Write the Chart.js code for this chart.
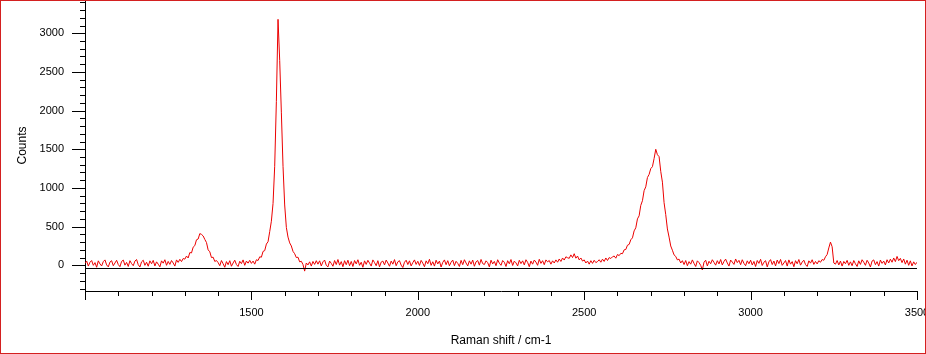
<!DOCTYPE html>
<html>
<head>
<meta charset="utf-8">
<title>Raman spectrum</title>
<script src="https://cdn.jsdelivr.net/npm/chart.js@4.4.0/dist/chart.umd.min.js"></script>
<style>
  html, body { margin: 0; padding: 0; background: #fff; }
  #wrap { position: relative; width: 926px; height: 354px; }
</style>
</head>
<body>
<div id="wrap"><canvas id="ramanChart"></canvas></div>
<script>
// Raman shift grid (cm-1) and counts, one value every 5 cm-1
const shiftStart = 1000;
const shiftStep = 5;
const counts = [
  25, 55, -10, 40, 62, 0, 35, -25, 58, 18, -8, 48, 70, 5, -20, 42, 60, -5, 30, 65,        // 1000
  10, -18, 50, 68, 2, 38, -15, 60, 22, -5, 55, 75, 8, -22, 45, 66, 0, 40, -12, 58,        // 1100
  20, 64, -8, 45, 15, -20, 58, 28, 72, 0, 50, 12, 62, 30, -10, 70, 38, 78, 48, 88,        // 1200
  80, 120, 95, 165, 160, 235, 255, 330, 340, 410, 400, 380, 335, 295, 200, 175, 100, 105, 50, 62, // 1300 D band
  35, -5, 62, 20, -25, 48, 8, 60, -12, 30, 66, 10, -15, 52, 22, 70, 0, 55, 28, 64,        // 1400
  25, 55, 15, 72, 62, 110, 105, 180, 190, 275, 305, 435, 570, 800, 1280, 2120, 3180, 2650, 1980, 1280, // 1500 G band
  780, 490, 365, 290, 250, 180, 150, 100, 105, 45, 52, 10, -75, 30, 5, 45, -10, 50, 12, 60, // 1600
  15, 58, -8, 45, 68, 0, -20, 55, 25, -12, 62, 10, 75, 2, 48, -18, 60, 8, 66, -5,         // 1700
  50, -15, 62, 18, 72, 0, 40, -25, 58, 12, 65, 28, -10, 70, 35, -5, 60, -20, 42, 55,      // 1800
  5, 68, 30, -12, 55, 15, 74, -5, 45, 60, 2, -28, 40, 66, 10, 58, -8, 35, 70, 12,         // 1900
  52, -2, 64, 28, -18, 58, 20, 78, 0, 46, -10, 66, 18, 55, -22, 38, 70, 8, 60, -6,        // 2000
  40, 68, -5, 52, 25, -15, 64, 8, 72, 30, -8, 58, 15, 68, -12, 45, 62, 2, 76, 22,         // 2100
  10, 58, 35, -20, 66, 18, 50, -5, 72, 28, 0, 62, 40, -15, 60, 20, 75, -2, 54, 32,        // 2200
  -8, 65, 22, 58, 5, 72, 38, -18, 55, 15, 68, 42, 0, 78, 25, 60, 8, 70, 45, 62,           // 2300
  15, 58, 30, 70, 40, 82, 50, 95, 68, 110, 98, 90, 135, 100, 150, 92, 120, 70, 95, 55,    // 2400
  70, 30, 55, 15, 60, 25, 65, 35, 48, 72, 40, 80, 50, 95, 62, 100, 88, 110, 120, 92,      // 2500
  140, 125, 155, 150, 200, 205, 260, 270, 330, 355, 445, 485, 600, 640, 775, 835, 965, 1015, 1135, 1175, // 2600 2D band
  1250, 1275, 1380, 1500, 1430, 1405, 1215, 1075, 810, 655, 470, 365, 250, 195, 135, 115, 70, 80, 30, 60, // 2700
  10, 62, -5, 48, 15, 70, 25, -15, 58, 35, 0, -60, 40, 66, -8, 52, 20, 72, 38, 2,         // 2800
  60, 18, 75, 5, 50, 80, 30, -10, 68, 42, 12, 82, 35, 64, 8, 72, 25, -5, 58, 20,          // 2900
  66, 5, 50, -15, 62, 25, 78, -2, 40, 60, -20, 45, 74, 10, 55, -8, 68, 22, 76, 0,         // 3000
  30, 62, -10, 70, 15, 48, -18, 60, 20, 75, 2, 42, 66, 10, -15, 58, 28, 72, 12, 50,       // 3100
  18, 60, 40, 75, 65, 110, 140, 225, 300, 240, 30, 15, 62, 5, 55, -10, 50, 20, 64, 0,     // 3200 2D'
  45, -5, 62, 20, -15, 58, 12, 72, 40, 0, 65, 30, -22, 55, 70, 8, 48, -10, 68, 25,        // 3300
  55, 5, 72, 30, 80, 40, 95, 48, 115, 60, 90, 35, 82, 15, 66, 0, 58, -8, 45, 10,          // 3400
  40                                                                                       // 3500
];
const baselineLevel = -35; // black reference line across the plot
const xTickLabels = [1500, 2000, 2500, 3000, 3500];
const yTickLabels = [0, 500, 1000, 1500, 2000, 2500, 3000];

const shifts = counts.map((c, i) => shiftStart + i * shiftStep);
const spectrum = counts.map((c, i) => ({ x: shifts[i], y: c }));

// reference line over the trace
const baselinePlugin = {
    id: 'baselinePlugin',
    afterDatasetsDraw(chart) {
        const ctx = chart.ctx;
        const area = chart.chartArea;
        const py = Math.round(chart.scales.y.getPixelForValue(baselineLevel)) + 0.5;
        ctx.save();
        ctx.strokeStyle = '#000';
        ctx.lineWidth = 1;
        ctx.beginPath();
        ctx.moveTo(area.left, py);
        ctx.lineTo(area.right, py);
        ctx.stroke();
        ctx.restore();
    }
};

// short/long tick marks outside the axes + red frame round the picture
const tickMarks = {
    id: 'tickMarks',
    afterDraw(chart) {
        const ctx = chart.ctx;
        const area = chart.chartArea;
        const xs = chart.scales.x, ys = chart.scales.y;
        ctx.save();
        ctx.strokeStyle = '#000';
        ctx.lineWidth = 1;
        ctx.beginPath();
        xs.ticks.forEach(t => {
            const px = Math.round(xs.getPixelForValue(t.value)) + 0.5;
            const len = t.value % 500 === 0 ? 9 : 5;
            ctx.moveTo(px, area.bottom);
            ctx.lineTo(px, area.bottom + len);
        });
        ys.ticks.forEach(t => {
            const py = Math.round(ys.getPixelForValue(t.value)) + 0.5;
            const len = t.value % 500 === 0 ? 13 : 5;
            ctx.moveTo(area.left, py);
            ctx.lineTo(area.left - len, py);
        });
        ctx.stroke();
        ctx.strokeStyle = '#d42020';
        ctx.strokeRect(0.5, 0.5, chart.width - 1, chart.height - 1);
        ctx.restore();
    }
};

const ctx = document.getElementById('ramanChart').getContext('2d');
const ramanChart = new Chart(ctx, {
    type: 'line',
    data: {
        datasets: [{
            label: 'Spectrum',
            data: spectrum,
            borderColor: 'rgb(235, 0, 0)',
            borderWidth: 1,
            pointRadius: 0,
            tension: 0
        }]
    },
    options: {
        responsive: true,
        maintainAspectRatio: false,
        devicePixelRatio: 1,
        animation: false,
        layout: { padding: { left: 0, right: 9, top: 0, bottom: 0 } },
        plugins: {
            legend: { display: false },
            tooltip: { enabled: false }
        },
        scales: {
            x: {
                type: 'linear',
                min: 1000,
                max: 3500,
                grid: { display: true, drawOnChartArea: false, drawTicks: false },
                border: { display: true, color: '#000', width: 1 },
                ticks: {
                    stepSize: 100,
                    includeBounds: false,
                    autoSkip: false,
                    maxRotation: 0,
                    padding: 15,
                    color: '#000',
                    font: { family: 'Liberation Sans', size: 11 },
                    callback: v => xTickLabels.includes(v) ? String(v) : ''
                },
                title: {
                    display: true,
                    text: 'Raman shift / cm-1',
                    color: '#000',
                    font: { family: 'Liberation Sans', size: 12 },
                    padding: { top: 6, bottom: 6 }
                },
                afterFit: s => { s.height = 63; s.paddingLeft = 0; s.paddingRight = 0; }
            },
            y: {
                min: -332,
                max: 3430,
                grid: { display: true, drawOnChartArea: false, drawTicks: false },
                border: { display: true, color: '#000', width: 1 },
                ticks: {
                    stepSize: 100,
                    includeBounds: false,
                    autoSkip: false,
                    padding: 21,
                    color: '#000',
                    font: { family: 'Liberation Sans', size: 11 },
                    callback: v => yTickLabels.includes(v) ? String(v) : ''
                },
                title: {
                    display: true,
                    text: 'Counts',
                    color: '#000',
                    font: { family: 'Liberation Sans', size: 12 },
                    padding: { top: 15, bottom: 15 }
                },
                afterFit: s => { s.width = 85; s.paddingTop = 0; s.paddingBottom = 0; }
            }
        }
    },
    plugins: [baselinePlugin, tickMarks]
});
</script>
</body>
</html>
